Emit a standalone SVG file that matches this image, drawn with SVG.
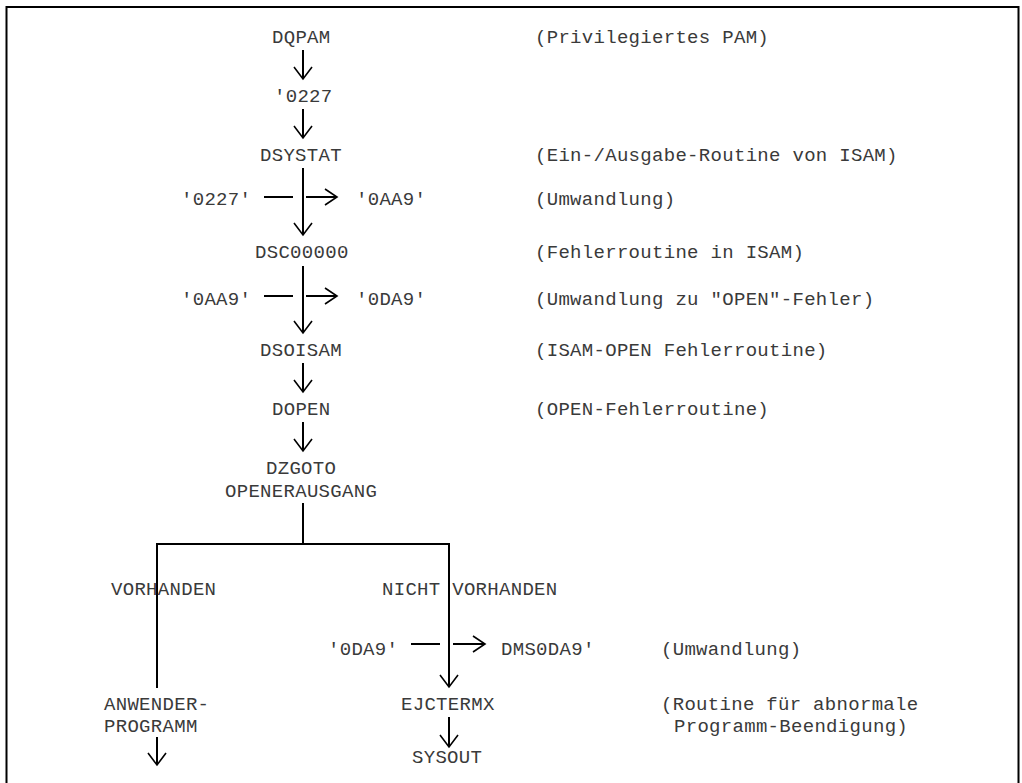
<svg xmlns="http://www.w3.org/2000/svg" width="1022" height="783" viewBox="0 0 1022 783">
<style>
text{font-family:"Liberation Mono","DejaVu Sans Mono",monospace;font-size:19px;fill:#3a3a3a;letter-spacing:0.3px}
.l{stroke:#000;stroke-width:2;fill:none}
.h{stroke:#000;stroke-width:1.6;fill:none}
</style>
<rect width="1022" height="783" fill="#fff"/>
<path class="l" d="M6.5,790 V7 H1018.5 V790"/>
<g id="connectors">
<path class="l" d="M303,50 V79"/><path class="h" d="M294,67 L303,79 L312,67"/>
<path class="l" d="M303,109 V138"/><path class="h" d="M294,126 L303,138 L312,126"/>
<path class="l" d="M303,168 V235"/><path class="h" d="M294,223 L303,235 L312,223"/>
<path class="l" d="M264,197 H293 M306,197 H337"/><path class="h" d="M325,189 L337,197 L325,205"/>
<path class="l" d="M303,266 V333"/><path class="h" d="M294,321 L303,333 L312,321"/>
<path class="l" d="M264,296 H293 M306,296 H337"/><path class="h" d="M325,288 L337,296 L325,304"/>
<path class="l" d="M303,363 V392"/><path class="h" d="M294,380 L303,392 L312,380"/>
<path class="l" d="M303,422 V451"/><path class="h" d="M294,439 L303,451 L312,439"/>
<path class="l" d="M303,503 V544 M157,688 V544 H449 V687"/><path class="h" d="M440,675 L449,687 L458,675"/>
<path class="l" d="M411,644 H440 M453,644 H485"/><path class="h" d="M473,636 L485,644 L473,652"/>
<path class="l" d="M157,737 V765"/><path class="h" d="M148,753 L157,765 L166,753"/>
<path class="l" d="M449,717 V747"/><path class="h" d="M440,735 L449,747 L458,735"/>
</g>
<g id="n-dqpam"><text x="272" y="43">DQPAM</text><text x="535" y="43">(Privilegiertes PAM)</text></g>
<g id="n-0227"><text x="274" y="102">'0227</text></g>
<g id="n-dsystat"><text x="260" y="161">DSYSTAT</text><text x="535" y="161">(Ein-/Ausgabe-Routine von ISAM)</text></g>
<g id="n-conv1"><text x="181" y="205">'0227'</text><text x="356" y="205">'0AA9'</text><text x="535" y="205">(Umwandlung)</text></g>
<g id="n-dsc"><text x="255" y="258">DSC00000</text><text x="535" y="258">(Fehlerroutine in ISAM)</text></g>
<g id="n-conv2"><text x="181" y="305">'0AA9'</text><text x="356" y="305">'0DA9'</text><text x="535" y="305">(Umwandlung zu "OPEN"-Fehler)</text></g>
<g id="n-dsoisam"><text x="260" y="356">DSOISAM</text><text x="535" y="356">(ISAM-OPEN Fehlerroutine)</text></g>
<g id="n-dopen"><text x="272" y="415">DOPEN</text><text x="535" y="415">(OPEN-Fehlerroutine)</text></g>
<g id="n-dzgoto"><text x="266" y="474">DZGOTO</text><text x="225" y="497">OPENERAUSGANG</text></g>
<g id="n-labels"><text x="111" y="595">VORHANDEN</text><text x="382" y="595">NICHT VORHANDEN</text></g>
<g id="n-conv3"><text x="328" y="655">'0DA9'</text><text x="501" y="655">DMS0DA9'</text><text x="661" y="655">(Umwandlung)</text></g>
<g id="n-anwender"><text x="104" y="710">ANWENDER-</text><text x="104" y="732">PROGRAMM</text></g>
<g id="n-ejctermx"><text x="401" y="710">EJCTERMX</text><text x="661" y="710">(Routine für abnormale</text><text x="674" y="732">Programm-Beendigung)</text></g>
<g id="n-sysout"><text x="412" y="763">SYSOUT</text></g>
</svg>
